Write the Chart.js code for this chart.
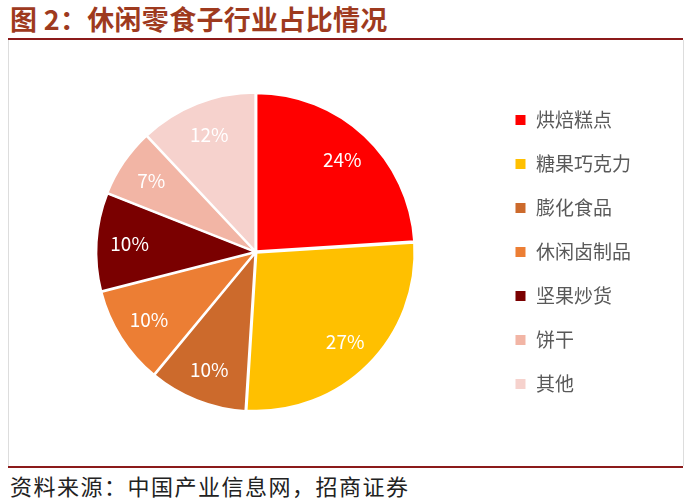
<!DOCTYPE html>
<html><head><meta charset="utf-8">
<script src="https://cdn.jsdelivr.net/npm/chart.js@4/dist/chart.umd.min.js"></script>
<style>
html,body{margin:0;padding:0;background:#fff;width:688px;height:500px;overflow:hidden;font-family:"Noto Sans CJK SC","Noto Sans",sans-serif;}
#title{position:absolute;left:10px;top:2px;font-size:27px;font-weight:bold;color:#9E3A1E;line-height:33px;white-space:nowrap;letter-spacing:0.3px;}
#topline{position:absolute;left:8px;top:38px;width:675px;height:2px;background:#8B1A1A;}
#frame{position:absolute;left:8px;top:40px;width:674px;height:426px;border-left:1px solid #ddd;border-right:1px solid #ddd;}
#botline{position:absolute;left:8px;top:466px;width:675px;height:2px;background:#8B1A1A;}
#source{position:absolute;left:10px;top:471px;font-size:22px;color:#222;line-height:28px;white-space:nowrap;letter-spacing:1.5px;}
#wrap{position:absolute;left:9px;top:41px;width:673px;height:425px;}
</style></head>
<body>
<div id="title">图 2：休闲零食子行业占比情况</div>
<div id="topline"></div>
<div id="frame"></div>
<div id="wrap"><canvas id="c" width="673" height="425"></canvas></div>
<div id="botline"></div>
<div id="source">资料来源：中国产业信息网，招商证券</div>
<script>
const categories = ["烘焙糕点","糖果巧克力","膨化食品","休闲卤制品","坚果炒货","饼干","其他"];
const shares = [24,27,10,10,10,7,12];
const sliceColors = ["#FF0000","#FFC000","#CC6A2C","#EC7E34","#7A0000","#F2B5A5","#F6D2CD"];

const labelPlugin = {
  id:'sliceLabels',
  afterDatasetsDraw(chart){
    const ctx = chart.ctx;
    const meta = chart.getDatasetMeta(0);
    ctx.save();
    ctx.font = '19px "Noto Sans CJK SC", "Noto Sans", sans-serif';
    ctx.fillStyle = '#fff';
    ctx.textAlign = 'center';
    ctx.textBaseline = 'middle';
    meta.data.forEach((arc,i)=>{
      const p = arc.getProps(['x','y','startAngle','endAngle','outerRadius'], true);
      const mid = (p.startAngle + p.endAngle)/2;
      const r = p.outerRadius*0.8;
      ctx.fillText(shares[i] + '%', p.x + Math.cos(mid)*r, p.y + Math.sin(mid)*r);
    });
    ctx.restore();
  }
};

new Chart(document.getElementById('c'), {
  type:'pie',
  data:{
    labels:categories,
    datasets:[{
      data:shares,
      backgroundColor:sliceColors,
      borderColor:'#fff',
      borderWidth:2,
      offset:4,
      radius:158
    }]
  },
  options:{
    responsive:false,
    animation:false,
    layout:{padding:{left:13,right:41,top:0,bottom:3}},
    plugins:{
      legend:{
        position:'right',
        labels:{
          boxWidth:12, boxHeight:12,
          padding:25,
          color:'#595959',
          font:{size:19, family:'"Noto Sans CJK SC", "Noto Sans", sans-serif'}
        }
      },
      tooltip:{enabled:false}
    }
  },
  plugins:[labelPlugin]
});
</script>
</body></html>
